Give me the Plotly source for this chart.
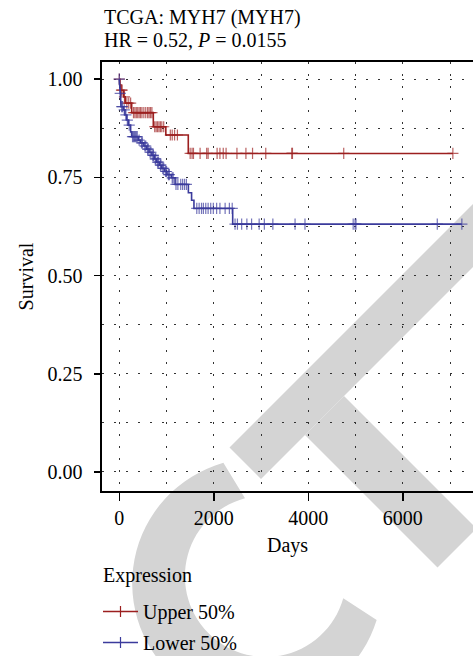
import math
import plotly.graph_objects as go

# ---------------- data ----------------
title_line1 = "TCGA: MYH7 (MYH7)"
title_line2 = "HR = 0.52, <i>P</i> = 0.0155"
legend_title = "Expression"
group_names = ["Upper 50%", "Lower 50%"]
group_colors = ["#9c1f1f", "#3b3b9c"]

upper_event_days = [15, 30, 95, 125, 262, 720, 985, 1460]
upper_event_surv = [0.986, 0.972, 0.955, 0.939, 0.915, 0.879, 0.858, 0.811]
upper_censor_days = [0, 47, 60, 110, 160, 200, 240, 300, 330, 360, 390, 420, 450,
                     480, 520, 560, 600, 630, 660, 690, 750, 780, 810, 840, 870,
                     900, 940, 1080, 1120, 1170, 1230, 1500, 1540, 1570, 1710,
                     1850, 1880, 2070, 2130, 2200, 2260, 2490, 2680, 2820, 3100,
                     3650, 3665, 4750, 7060]

lower_event_days = [3, 10, 18, 26, 35, 90, 120, 155, 190, 240, 262, 400, 450, 520,
                    580, 630, 690, 740, 790, 850, 900, 960, 1010, 1100, 1180,
                    1462, 1530, 1580, 2400]
lower_event_surv = [0.988, 0.976, 0.964, 0.947, 0.930, 0.922, 0.909, 0.896, 0.883,
                    0.866, 0.854, 0.845, 0.838, 0.830, 0.822, 0.814, 0.806, 0.797,
                    0.789, 0.781, 0.773, 0.765, 0.757, 0.749, 0.732, 0.711, 0.692,
                    0.671, 0.631]
lower_censor_days = [0, 20, 50, 70, 105, 140, 170, 210, 280, 300, 320, 340, 360,
                     380, 420, 470, 490, 540, 560, 600, 612, 650, 670, 710, 722,
                     760, 772, 810, 830, 870, 882, 920, 940, 980, 1000, 1040, 1060,
                     1120, 1140, 1200, 1240, 1300, 1340, 1380, 1420, 1640, 1690,
                     1740, 1780, 1830, 1880, 1935, 1990, 2060, 2130, 2240, 2330,
                     2390, 2450, 2500, 2590, 2700, 2800, 2960, 3070, 3250, 3720,
                     3930, 4950, 4990, 5010, 6730, 7250]

x_ticks = [0, 2000, 4000, 6000]
y_ticks = [0.0, 0.25, 0.5, 0.75, 1.0]

# ---------------- helpers ----------------
CENSOR_SIZE = 8


def km_path(ev_t, ev_s, cen_t):
    items = [(t, 0, s) for t, s in zip(ev_t, ev_s)] + [(t, 1, None) for t in cen_t]
    items.sort(key=lambda r: (r[0], r[1]))
    xs, ys, sz = [0], [1.0], [0]
    cur = 1.0
    for t, kind, s in items:
        if kind == 0:
            xs += [t, t]
            ys += [cur, s]
            sz += [0, 0]
            cur = s
        else:
            xs.append(t)
            ys.append(cur)
            sz.append(CENSOR_SIZE)
    return xs, ys, sz


FONT = "Liberation Serif"
FS = 20

fig = go.Figure()

for name, color, ev_t, ev_s, cen_t, grp in [
    (group_names[0], group_colors[0], upper_event_days, upper_event_surv, upper_censor_days, "g1"),
    (group_names[1], group_colors[1], lower_event_days, lower_event_surv, lower_censor_days, "g2"),
]:
    xs, ys, sz = km_path(ev_t, ev_s, cen_t)
    fig.add_trace(go.Scatter(
        x=xs, y=ys, mode="lines+markers", showlegend=False, hoverinfo="skip",
        line=dict(color=color, width=1.6),
        marker=dict(symbol="cross-thin-open", size=sz, color=color,
                    line=dict(color=color, width=1.2)),
    ))
    # legend proxy entry
    fig.add_trace(go.Scatter(
        x=[None], y=[None], mode="lines+markers", name=name, legendgroup=grp,
        line=dict(color=color, width=1.6),
        marker=dict(symbol="cross-thin-open", size=CENSOR_SIZE, color=color,
                    line=dict(color=color, width=1.2)),
    ))

# ---------------- layout geometry (window pixels) ----------------
W, H = 473, 656
L, T = 102, 62
R = 0
PB = 491                  # plot bottom
B = H - PB
PW, PH = W - L - R, PB - T


def pp(x, y):
    return (x - L) / PW, (PB - y) / PH


def path_from(points):
    s = ""
    for i, (x, y) in enumerate(points):
        px_, py_ = pp(x, y)
        s += ("M" if i == 0 else "L") + f"{px_:.5f},{py_:.5f} "
    return s + "Z"


WM = "#d4d4d4"
shapes = []
# watermark "C"
outer_c, outer_r = (257.2, 583.2), 125.0
inner_c, inner_r = (265.6, 576.3), 80.7
pts = []
n = 60
a0, a1 = 254.3, 17.1
for i in range(n + 1):
    a = math.radians(a0 + (a1 - a0) * i / n)
    pts.append((outer_c[0] + outer_r * math.cos(a), outer_c[1] + outer_r * math.sin(a)))
b0, b1 = 15.8, 255.2
for i in range(n + 1):
    a = math.radians(b0 + (b1 - b0) * i / n)
    pts.append((inner_c[0] + inner_r * math.cos(a), inner_c[1] + inner_r * math.sin(a)))
shapes.append(dict(type="path", xref="paper", yref="paper", path=path_from(pts),
                   fillcolor=WM, line=dict(width=0), layer="below"))
# watermark "T" (bar + stem)
shapes.append(dict(type="path", xref="paper", yref="paper",
                   path=path_from([(229.5, 447.5), (261, 479), (620, 120), (588.5, 88.5)]),
                   fillcolor=WM, line=dict(width=0), layer="below"))
shapes.append(dict(type="path", xref="paper", yref="paper",
                   path=path_from([(305, 435), (344, 396), (476.5, 528.5), (437.5, 567.5)]),
                   fillcolor=WM, line=dict(width=0), layer="below"))

x_range = [-366, 7486]
y_range = [-0.0484, 1.0438]

grid_dash = "1.5px,10.5px"
grid_col = "#333333"

fig.update_layout(
    width=W, height=H,
    margin=dict(l=L, r=R, t=T, b=B, autoexpand=False),
    paper_bgcolor="white", plot_bgcolor="rgba(0,0,0,0)",
    font=dict(family=FONT, size=FS, color="black"),
    shapes=shapes,
    showlegend=True,
    legend=dict(
        x=pp(98, 0)[0], xanchor="left", y=pp(0, 592)[1], yanchor="top",
        bgcolor="rgba(0,0,0,0)", font=dict(family=FONT, size=FS),
        traceorder="grouped", tracegroupgap=2, itemwidth=35,
    ),
    annotations=[
        dict(text=title_line1, xref="paper", yref="paper", x=pp(102, 0)[0], xanchor="left",
             y=pp(0, 18)[1], yanchor="middle", showarrow=False,
             font=dict(family=FONT, size=FS)),
        dict(text=title_line2, xref="paper", yref="paper", x=pp(102, 0)[0], xanchor="left",
             y=pp(0, 40)[1], yanchor="middle", showarrow=False,
             font=dict(family=FONT, size=FS)),
        dict(text=legend_title, xref="paper", yref="paper", x=pp(101, 0)[0], xanchor="left",
             y=pp(0, 575)[1], yanchor="middle", showarrow=False,
             font=dict(family=FONT, size=FS)),
    ],
)

fig.update_xaxes(
    range=x_range, tickvals=x_ticks, ticktext=[str(v) for v in x_ticks],
    showline=True, linecolor="black", linewidth=1.6, mirror=True,
    ticks="outside", ticklen=8, tickwidth=1.5, tickcolor="black",
    showgrid=True, gridcolor=grid_col, gridwidth=1, griddash=grid_dash,
    minor=dict(dtick=1000, tick0=0, showgrid=True, gridcolor=grid_col, gridwidth=1,
               griddash=grid_dash, ticks=""),
    zeroline=False,
    title=dict(text="Days", standoff=10, font=dict(family=FONT, size=FS)),
    tickfont=dict(family=FONT, size=FS),
)
fig.update_yaxes(
    range=y_range, tickvals=y_ticks, ticktext=[f"{v:.2f}" for v in y_ticks],
    showline=True, linecolor="black", linewidth=1.6, mirror=False,
    ticks="outside", ticklen=6, tickwidth=1.5, tickcolor="black",
    showgrid=True, gridcolor=grid_col, gridwidth=1, griddash=grid_dash,
    minor=dict(dtick=0.125, tick0=0, showgrid=True, gridcolor=grid_col, gridwidth=1,
               griddash=grid_dash, ticks=""),
    zeroline=False,
    title=dict(text="Survival", standoff=8, font=dict(family=FONT, size=FS)),
    tickfont=dict(family=FONT, size=FS),
    ticklabelstandoff=8,
)

fig.write_html(
    "out.html",
    config={"displayModeBar": False, "staticPlot": True},
    post_script="document.body.style.margin='0';document.body.style.overflow='hidden';",
)
